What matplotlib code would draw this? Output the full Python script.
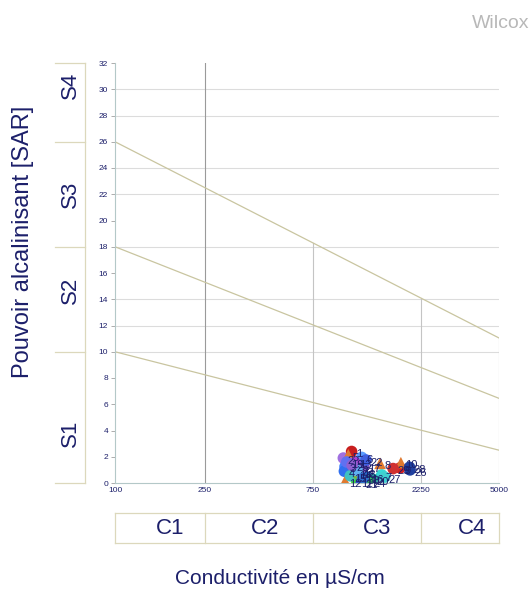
import matplotlib
matplotlib.use("Agg")
import matplotlib.pyplot as plt

plt.rcParams['font.family'] = ['Liberation Sans', 'DejaVu Sans']

# Wilcox classes
cond_ticks = [100, 250, 750, 2250, 5000]
sar_ticks = list(range(0, 33, 2))
grid_sar = [10, 12, 14, 18, 22, 24, 28, 30]
c_labels = ["C1", "C2", "C3", "C4"]
c_label_x = [175, 460, 1440, 3800]
s_bounds = [0, 10, 18, 26, 32]
s_labels = ["S1", "S2", "S3", "S4"]
s_label_y = [3.8, 14.7, 22.0, 30.3]

# boundary lines (SAR at 100 and at 5000 uS/cm)
limit_start = [26, 18, 10]
limit_end = [11.05, 6.45, 2.5]
# vertical class lines and the height where they stop
vline_x = [250, 750, 2250, 5000]
vline_top = [32, 18.3, 14.1, 11.05]

# samples
samples = ["1", "2", "3", "4", "5", "6", "7", "8", "9", "10",
           "11", "12", "13", "14", "15", "16", "17", "18", "19", "20",
           "21", "22", "23", "24", "25", "26", "27", "28", "29", "30"]
cond = [1114, 1024, 1042, 1035, 1077, 1235, 1514, 1489, 1825, 1840,
        1173, 1042, 1153, 1153, 1100, 1300, 1260, 1200, 1060, 1380,
        1230, 1290, 1180, 1330, 1120, 2020, 1560, 2010, 1700, 1250]
sar = [2.40, 1.90, 1.25, 0.90, 2.15, 1.95, 0.62, 1.50, 1.15, 1.55,
       0.15, 0.15, 1.55, 0.75, 0.55, 0.45, 1.25, 0.80, 1.60, 0.30,
       0.05, 1.75, 0.95, 0.10, 1.35, 1.00, 0.45, 1.20, 1.10, 0.35]
markers = ["o", "o", "o", "o", "^", "o", "o", "^", "o", "^",
           "o", "^", "o", "o", "o", "o", "o", "^", "o", "o",
           "o", "o", "o", "o", "o", "o", "o", "o", "o", "o"]
colors = ["#c81e1e", "#a070e0", "#3f7fff", "#2f6fef", "#e07a30", "#5a9cff",
          "#38d8d8", "#e07a30", "#d42020", "#e07a30", "#3ed63e", "#e07a30",
          "#b040d0", "#50d050", "#40c0c0", "#2080e0", "#8050c0", "#80b040",
          "#6070f0", "#30a0a0", "#3050d0", "#4060e0", "#60b0f0", "#30c060",
          "#9060d0", "#2040a0", "#40d0d0", "#2040a0", "#d03030", "#3070d0"]

navy = "#1c1f6a"
box_col = "#dcd8bc"

fig = plt.figure(figsize=(5.32, 5.89), dpi=100)
ax = fig.add_axes([115 / 532, 1 - 483 / 589, 384 / 532, 420 / 589])
ax.set_xscale("log")
ax.set_xlim(100, 5000)
ax.set_ylim(0, 32)

for y in grid_sar:
    ax.plot([100, 5000], [y, y], color="#dcdcdc", lw=0.8, zorder=1)
for x, top, c in zip(vline_x, vline_top, ["#9a9a9a", "#c4c4c4", "#c4c4c4", "#c4c4c4"]):
    ax.plot([x, x], [0, top], color=c, lw=0.8, zorder=1)
for a, b in zip(limit_start, limit_end):
    ax.plot([100, 5000], [a, b], color="#c9c5a0", lw=0.9, zorder=2)

for i in range(len(samples)):
    ax.scatter(cond[i], sar[i], marker=markers[i], s=70, color=colors[i],
               edgecolors="none", zorder=3)
for i in range(len(samples)):
    ax.annotate(samples[i], (cond[i], sar[i]), xytext=(3, -2), textcoords="offset points",
                fontsize=8, color=navy, va="center", zorder=4)

for s in ["top", "right"]:
    ax.spines[s].set_visible(False)
for s in ["left", "bottom"]:
    ax.spines[s].set_color("#b4c8c8")
    ax.spines[s].set_linewidth(0.8)
ax.set_yticks(sar_ticks)
ax.set_yticklabels([str(v) for v in sar_ticks])
ax.set_xticks(cond_ticks)
ax.set_xticklabels([str(v) for v in cond_ticks])
ax.xaxis.set_minor_locator(matplotlib.ticker.NullLocator())
ax.tick_params(axis="both", labelsize=6, labelcolor=navy, color="#a0a0a0",
               length=3, width=0.6, pad=2)
ax.tick_params(axis="x", length=0, pad=3)

# salinity class column
sax = fig.add_axes([55 / 532, 1 - 483 / 589, 30 / 532, 420 / 589])
sax.set_xlim(0, 1)
sax.set_ylim(0, 32)
sax.axis("off")
for y in s_bounds:
    sax.plot([0, 1], [y, y], color=box_col, lw=0.9, clip_on=False)
sax.plot([1, 1], [0, 32], color=box_col, lw=0.9, clip_on=False)
for lab, y in zip(s_labels, s_label_y):
    sax.text(0.5, y, lab, rotation=90, ha="center", va="center", fontsize=16, color=navy)

# conductivity class row
cax = fig.add_axes([115 / 532, 1 - 543 / 589, 384 / 532, 30 / 589])
cax.set_xscale("log")
cax.set_xlim(100, 5000)
cax.set_ylim(0, 1)
cax.axis("off")
cax.plot([100, 5000], [0, 0], color=box_col, lw=0.9, clip_on=False)
cax.plot([100, 5000], [1, 1], color=box_col, lw=0.9, clip_on=False)
for x in cond_ticks:
    cax.plot([x, x], [0, 1], color=box_col, lw=0.9, clip_on=False)
for lab, x in zip(c_labels, c_label_x):
    cax.text(x, 0.5, lab, ha="center", va="center", fontsize=16, color=navy)

fig.text(23 / 532, 1 - 242 / 589, "Pouvoir alcalinisant [SAR]", rotation=90,
         ha="center", va="center", fontsize=17, color=navy)
fig.text(280 / 532, 1 - 578 / 589, "Conductivité en µS/cm", ha="center", va="center",
         fontsize=15, color=navy)
fig.text(529 / 532, 1 - 23 / 589, "Wilcox", ha="right", va="center", fontsize=14,
         color="#b8b8b8")

fig.savefig("out.png", dpi=100)
